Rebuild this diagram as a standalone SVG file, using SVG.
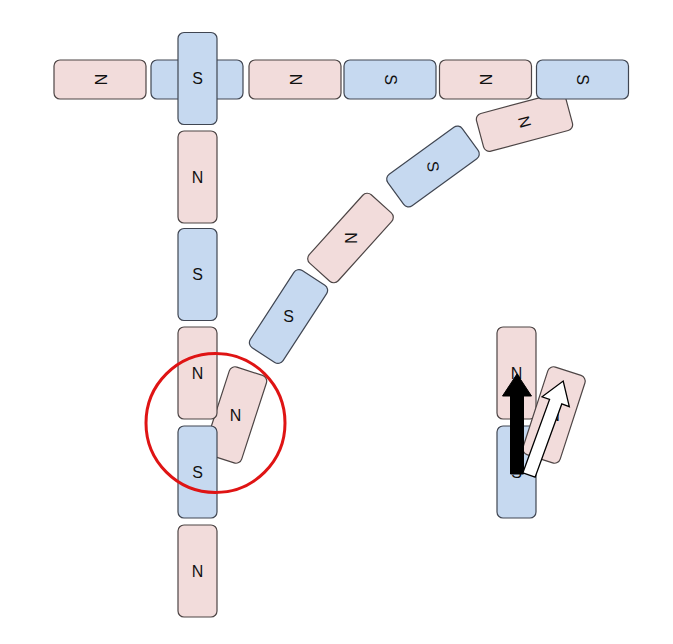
<svg xmlns="http://www.w3.org/2000/svg" width="673" height="644" viewBox="0 0 673 644">
<style>
.n{fill:#f2dcdb;stroke:#4d4545;stroke-width:1.2}
.s{fill:#c6d9f0;stroke:#404652;stroke-width:1.2}
text{font-family:"Liberation Sans",Arial,sans-serif;font-size:16px;fill:#111;text-anchor:middle;dominant-baseline:central}
</style>
<defs>
<rect id="v" x="-19.5" y="-46" width="39" height="92" rx="6"/>
<rect id="h" x="-46" y="-19.5" width="92" height="39" rx="6"/>
<path id="arr" d="M-6.5,0 L-6.5,-78 L-14.5,-78 L0,-100 L14.5,-78 L6.5,-78 L6.5,0 Z"/>
</defs>
<rect width="673" height="644" fill="#fff"/>

<!-- diagonal chain -->
<g id="d1" transform="translate(288.5,316.5) rotate(33)"><use href="#v" class="s"/><text transform="rotate(-33)">S</text></g>
<g id="d2" transform="translate(350.5,238) rotate(42)"><use href="#v" class="n"/><text transform="rotate(48)">N</text></g>
<g id="d3" transform="translate(433,166.5) rotate(54)"><use href="#v" class="s"/><text transform="rotate(30)">S</text></g>
<g id="d4" transform="translate(524.5,122) rotate(-15)"><use href="#h" class="n"/><text transform="rotate(90)">N</text></g>

<!-- top row -->
<g id="t1" transform="translate(100,79.5)"><use href="#h" class="n"/><text transform="rotate(90)">N</text></g>
<g id="t2" transform="translate(197,79.5)"><use href="#h" class="s"/></g>
<g id="t3" transform="translate(295,79.5)"><use href="#h" class="n"/><text transform="rotate(90)">N</text></g>
<g id="t4" transform="translate(390,79.5)"><use href="#h" class="s"/><text transform="rotate(90)">S</text></g>
<g id="t5" transform="translate(485.5,79.5)"><use href="#h" class="n"/><text transform="rotate(90)">N</text></g>
<g id="t6" transform="translate(582.5,79.5)"><use href="#h" class="s"/><text transform="rotate(90)">S</text></g>

<!-- tilted N in circle -->
<g id="c1" transform="translate(235.5,415) rotate(18)"><use href="#v" class="n"/><text transform="rotate(-18)">N</text></g>

<!-- vertical column -->
<g id="v1" transform="translate(197.5,78.5)"><use href="#v" class="s"/><text>S</text></g>
<g id="v2" transform="translate(197.5,177)"><use href="#v" class="n"/><text>N</text></g>
<g id="v3" transform="translate(197.5,274.5)"><use href="#v" class="s"/><text>S</text></g>
<g id="v4" transform="translate(197.5,373)"><use href="#v" class="n"/><text>N</text></g>
<g id="v5" transform="translate(197.5,472)"><use href="#v" class="s"/><text>S</text></g>
<g id="v6" transform="translate(197.5,571)"><use href="#v" class="n"/><text>N</text></g>

<!-- right group -->
<g id="r1" transform="translate(516.5,373)"><use href="#v" class="n"/><text>N</text></g>
<g id="r2" transform="translate(516.5,472)"><use href="#v" class="s"/><text>S</text></g>
<g id="r3" transform="translate(554,415) rotate(18)"><use href="#v" class="n"/><text transform="rotate(-18)">N</text></g>

<g id="connectors">
<use href="#arr" transform="translate(517,474)" fill="#000" stroke="#000" stroke-width="1"/>
<use href="#arr" transform="translate(529,475) rotate(20)" fill="#fff" stroke="#000" stroke-width="1.3"/>
</g>

<g id="highlight">
<circle cx="215.5" cy="423" r="69.5" fill="none" stroke="#df1414" stroke-width="3"/>
</g>
</svg>
